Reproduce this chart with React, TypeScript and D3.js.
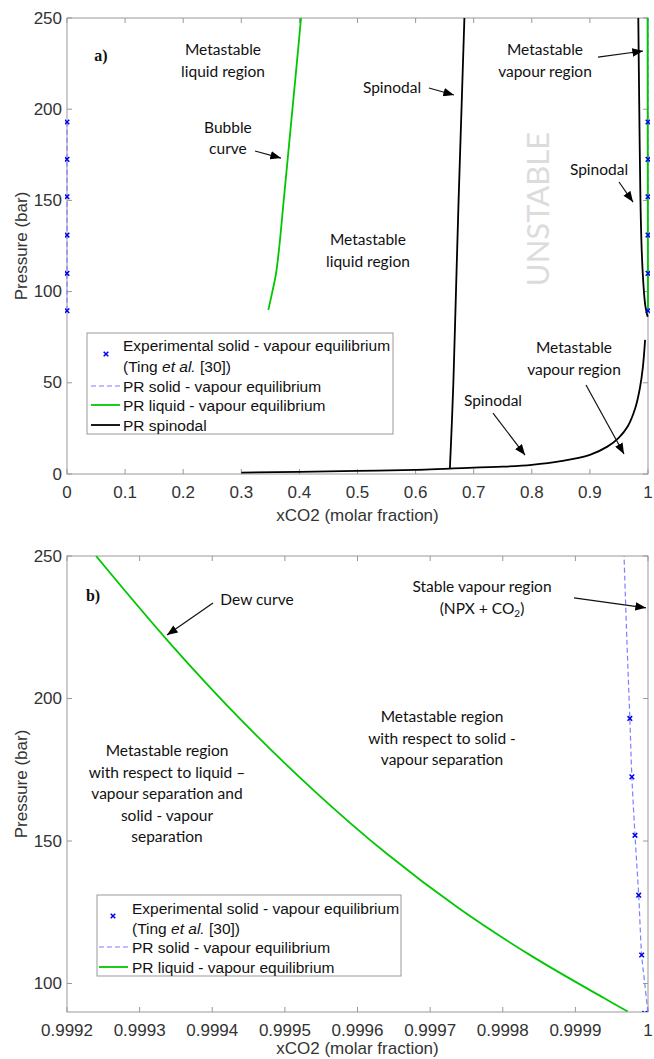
import React from 'react';
import * as d3 from 'd3';

// ---------------- data ----------------
const topXTicks = [0, 0.1, 0.2, 0.3, 0.4, 0.5, 0.6, 0.7, 0.8, 0.9, 1];
const topXTickLabels = ['0', '0.1', '0.2', '0.3', '0.4', '0.5', '0.6', '0.7', '0.8', '0.9', '1'];
const topYTicks = [0, 50, 100, 150, 200, 250];
const bottomXTicks = [0.9992, 0.9993, 0.9994, 0.9995, 0.9996, 0.9997, 0.9998, 0.9999, 1];
const bottomXTickLabels = ['0.9992', '0.9993', '0.9994', '0.9995', '0.9996', '0.9997', '0.9998', '0.9999', '1'];
const bottomYTicks = [100, 150, 200, 250];

// Experimental solid - vapour equilibrium (Ting et al.)
const expPressure = [193, 172.5, 152, 131, 110, 89.5];
const expXCO2 = [0.999975, 0.9999778, 0.9999821, 0.9999872, 0.9999913, 0.9999955];
const expXCO2Left = [0, 0, 0, 0, 0, 0];

// PR solid - vapour equilibrium
const svPressure = [90, 100, 110, 131, 152, 172.5, 193, 220, 250];
const svXCO2 = [0.9999998, 0.9999955, 0.9999913, 0.9999872, 0.9999821, 0.9999778, 0.999975, 0.999971, 0.999967];
const svLeftPressure = [89.5, 193];
const svLeftXCO2 = [0, 0];

// PR liquid - vapour equilibrium: dew curve (CO2-rich) and bubble curve
const dewPressure = [250, 219.9, 192.4, 167.7, 145.6, 126.3, 109.6, 94.8, 90.2];
const dewXCO2 = [0.99924, 0.99934, 0.99944, 0.99954, 0.99964, 0.99974, 0.99984, 0.99994, 0.999972];
const bubblePressure = [90, 100, 110, 125, 150, 175, 200, 225, 250];
const bubbleXCO2 = [0.3465, 0.3535, 0.3598, 0.3655, 0.373, 0.3805, 0.388, 0.3955, 0.4028];

// PR spinodal branches
const liqSpinPressure = [3.0, 25, 50, 100, 150, 200, 250];
const liqSpinXCO2 = [0.659, 0.662, 0.665, 0.6695, 0.674, 0.679, 0.684];
const vapSpinPressure = [86.2, 88, 92, 100, 120, 150, 200, 250];
const vapSpinXCO2 = [0.9995, 0.998, 0.9955, 0.993, 0.9895, 0.987, 0.985, 0.9833];
const lowSpinXCO2 = [0.3, 0.4, 0.5, 0.6, 0.659, 0.75, 0.8, 0.85, 0.9, 0.93, 0.95, 0.965, 0.978, 0.986, 0.991, 0.995];
const lowSpinPressure = [0.8, 1.2, 1.7, 2.3, 3.0, 4.0, 5.0, 7.0, 10.5, 15, 20, 26, 36, 47, 58, 73.5];

// annotations (data coordinates)
const topNotes = [
  { lines: ['Metastable', 'liquid region'], x: 0.2685, y: 232.5 },
  { lines: ['Bubble', 'curve'], x: 0.277, y: 190.2 },
  { lines: ['Spinodal'], x: 0.5594, y: 211.6 },
  { lines: ['Metastable', 'vapour region'], x: 0.8227, y: 232.5 },
  { lines: ['Spinodal'], x: 0.9157, y: 166.7 },
  { lines: ['Metastable', 'liquid region'], x: 0.518, y: 128.3 },
  { lines: ['Metastable', 'vapour region'], x: 0.8726, y: 69.1 },
  { lines: ['Spinodal'], x: 0.7332, y: 40.0 },
];
const topArrows = [
  { x1: 0.3236, y1: 177.1, x2: 0.3683, y2: 173.2 },
  { x1: 0.623, y1: 211.6, x2: 0.6661, y2: 207.8 },
  { x1: 0.914, y1: 228.6, x2: 0.9914, y2: 231.9 },
  { x1: 0.9501, y1: 160.1, x2: 0.9742, y2: 149.1 },
  { x1: 0.8933, y1: 48.8, x2: 0.9587, y2: 11.0 },
  { x1: 0.7332, y1: 33.4, x2: 0.7883, y2: 10.4 },
];
const bottomNotes = [
  { lines: ['Dew curve'], x: 0.99946162, y: 234.6 },
  { lines: ['Metastable region', 'with respect to solid -', 'vapour separation'], x: 0.99971635, y: 193.6 },
  { lines: ['Metastable region', 'with respect to liquid –', 'vapour separation and', 'solid  -  vapour', 'separation'], x: 0.99933769, y: 181.7 },
];
const bottomArrows = [
  { x1: 0.99940103, y1: 233.5, x2: 0.99933769, y2: 222.3 },
  { x1: 0.99989811, y1: 235.3, x2: 0.99999725, y2: 231.8 },
];

// ---------------- styles ----------------
const W = 654;
const H = 1059;
const GREEN = '#00c800';
const BLUE = '#0000ee';
const LIGHTBLUE = '#7f7fff';
const AXIS = '#999999';
const TICKTXT = '#333333';
const SANS = '"Liberation Sans", Arial, sans-serif';
const NOTE = 'Lato, "Open Sans", sans-serif';
const NOTE_FS = 15.5;

const topBox = { left: 67, right: 648, top: 18, bottom: 474 };
const botBox = { left: 67, right: 648, top: 556, bottom: 1012 };

const xTop = d3.scaleLinear().domain([0, 1]).range([topBox.left, topBox.right]);
const yTop = d3.scaleLinear().domain([0, 250]).range([topBox.bottom, topBox.top]);
const xBot = d3.scaleLinear().domain([0.9992, 1]).range([botBox.left, botBox.right]);
const yBot = d3.scaleLinear().domain([90, 250]).range([botBox.bottom, botBox.top]);

type Sc = d3.ScaleLinear<number, number>;

function pathXY(xs: number[], ys: number[], xs_: Sc, ys_: Sc) {
  const pts = xs.map((x, i) => [x, ys[i]] as [number, number]);
  return d3
    .line<[number, number]>()
    .x((d) => xs_(d[0]))
    .y((d) => ys_(d[1]))
    .curve(d3.curveCatmullRom.alpha(0.5))(pts) as string;
}

function Cross({ cx, cy }: { cx: number; cy: number }) {
  const s = 2.3;
  return (
    <path
      d={`M${cx - s},${cy - s}L${cx + s},${cy + s}M${cx - s},${cy + s}L${cx + s},${cy - s}`}
      stroke={BLUE}
      strokeWidth={1.5}
      fill="none"
    />
  );
}

function Axes({ box, xs, ys, xt, xl, yt, xLabelY }: any) {
  const tl = 5;
  return (
    <g>
      <rect x={box.left} y={box.top} width={box.right - box.left} height={box.bottom - box.top} fill="none" stroke={AXIS} strokeWidth={1} />
      {xt.map((t: number, i: number) => (
        <g key={'x' + i}>
          <line x1={xs(t)} x2={xs(t)} y1={box.bottom} y2={box.bottom - tl} stroke={AXIS} />
          <line x1={xs(t)} x2={xs(t)} y1={box.top} y2={box.top + tl} stroke={AXIS} />
          <text x={xs(t)} y={xLabelY} textAnchor="middle" dominantBaseline="central" fontFamily={SANS} fontSize={17} fill={TICKTXT}>
            {xl[i]}
          </text>
        </g>
      ))}
      {yt.map((t: number, i: number) => (
        <g key={'y' + i}>
          <line x1={box.left} x2={box.left + tl} y1={ys(t)} y2={ys(t)} stroke={AXIS} />
          <line x1={box.right} x2={box.right - tl} y1={ys(t)} y2={ys(t)} stroke={AXIS} />
          <text x={box.left - 5} y={ys(t)} textAnchor="end" dominantBaseline="central" fontFamily={SANS} fontSize={17} fill={TICKTXT}>
            {String(t)}
          </text>
        </g>
      ))}
    </g>
  );
}

function Notes({ notes, xs, ys }: any) {
  return (
    <g>
      {notes.map((n: any, i: number) => (
        <text key={i} x={xs(n.x)} y={ys(n.y)} textAnchor="middle" fontFamily={NOTE} fontSize={NOTE_FS} fill="#111">
          {n.lines.map((l: string, j: number) => (
            <tspan key={j} x={xs(n.x)} dy={j === 0 ? '0.35em' : '1.39em'}>
              {l}
            </tspan>
          ))}
        </text>
      ))}
    </g>
  );
}

function Arrows({ arrows, xs, ys }: any) {
  return (
    <g>
      {arrows.map((a: any, i: number) => (
        <line key={i} x1={xs(a.x1)} y1={ys(a.y1)} x2={xs(a.x2)} y2={ys(a.y2)} stroke="#111" strokeWidth={1.2} markerEnd="url(#ah)" />
      ))}
    </g>
  );
}

function LegendEntry({ kind, x, y }: { kind: string; x: number; y: number }) {
  if (kind === 'dash') return <line x1={x} x2={x + 29} y1={y} y2={y} stroke={LIGHTBLUE} strokeWidth={1.2} strokeDasharray="5,3" />;
  if (kind === 'green') return <line x1={x} x2={x + 29} y1={y} y2={y} stroke={GREEN} strokeWidth={1.8} />;
  return <line x1={x} x2={x + 29} y1={y} y2={y} stroke="#000" strokeWidth={1.8} />;
}

function Legend({ x0, y0, w, h, markerX, markerY, textX, rows, lineX, withSpinodal }: any) {
  const fs = 15.5;
  return (
    <g fontFamily={SANS} fontSize={fs} fill="#111">
      <rect x={x0} y={y0} width={w} height={h} fill="#fff" stroke={AXIS} strokeWidth={1} />
      <Cross cx={markerX} cy={markerY} />
      <text x={textX} y={rows[0]} dominantBaseline="central">Experimental solid - vapour equilibrium</text>
      <text x={textX} y={rows[1]} dominantBaseline="central">
        (Ting <tspan fontStyle="italic">et al.</tspan> [30])
      </text>
      <LegendEntry kind="dash" x={lineX} y={rows[2]} />
      <text x={textX} y={rows[2]} dominantBaseline="central">PR solid - vapour equilibrium</text>
      <LegendEntry kind="green" x={lineX} y={rows[3]} />
      <text x={textX} y={rows[3]} dominantBaseline="central">PR liquid - vapour equilibrium</text>
      {withSpinodal && (
        <>
          <LegendEntry kind="black" x={lineX} y={rows[4]} />
          <text x={textX} y={rows[4]} dominantBaseline="central">PR spinodal</text>
        </>
      )}
    </g>
  );
}

export default function App() {
  const topMidY = (topBox.top + topBox.bottom) / 2;
  const botMidY = (botBox.top + botBox.bottom) / 2;
  return (
    <svg width={W} height={H} style={{ position: 'absolute', left: 0, top: 0, background: '#fff' }}>
      <defs>
        <marker id="ah" viewBox="0 0 10 8" refX={10} refY={4} markerWidth={11} markerHeight={8.5} markerUnits="userSpaceOnUse" orient="auto">
          <path d="M0,0L10,4L0,8Z" fill="#000" />
        </marker>
        <clipPath id="clipTop">
          <rect x={topBox.left - 2} y={topBox.top} width={topBox.right - topBox.left + 4} height={topBox.bottom - topBox.top} />
        </clipPath>
        <clipPath id="clipBot">
          <rect x={botBox.left - 2} y={botBox.top} width={botBox.right - botBox.left + 4} height={botBox.bottom - botBox.top} />
        </clipPath>
      </defs>
      <rect x={0} y={0} width={W} height={H} fill="#fff" />

      {/* ---------- panel a ---------- */}
      <Axes box={topBox} xs={xTop} ys={yTop} xt={topXTicks} xl={topXTickLabels} yt={topYTicks} xLabelY={492} />
      <text
        x={21}
        y={topMidY}
        transform={`rotate(-90 21 ${topMidY})`}
        textAnchor="middle"
        dominantBaseline="central"
        fontFamily={SANS}
        fontSize={17}
        fill={TICKTXT}
      >
        Pressure (bar)
      </text>
      <text x={(topBox.left + topBox.right) / 2} y={515} textAnchor="middle" dominantBaseline="central" fontFamily={SANS} fontSize={17} fill={TICKTXT}>
        xCO2 (molar fraction)
      </text>
      <text
        x={xTop(0.809)}
        y={yTop(145.3)}
        transform={`rotate(-90 ${xTop(0.809)} ${yTop(145.3)})`}
        textAnchor="middle"
        dominantBaseline="central"
        fontFamily={NOTE}
        fontSize={31}
        fill="#dcdcdc"
      >
        UNSTABLE
      </text>
      <g clipPath="url(#clipTop)">
        <path d={pathXY(bubbleXCO2, bubblePressure, xTop, yTop)} stroke={GREEN} strokeWidth={1.8} fill="none" />
        <path d={pathXY(svXCO2, svPressure, xTop, yTop)} stroke={LIGHTBLUE} strokeWidth={1.2} strokeDasharray="5,3" fill="none" />
        <path d={pathXY(svLeftXCO2, svLeftPressure, xTop, yTop)} stroke={LIGHTBLUE} strokeWidth={1.2} strokeDasharray="5,3" fill="none" />
        <path d={pathXY(dewXCO2, dewPressure, xTop, yTop)} stroke={GREEN} strokeWidth={1.8} fill="none" />
        <path d={pathXY(liqSpinXCO2, liqSpinPressure, xTop, yTop)} stroke="#000" strokeWidth={1.8} fill="none" />
        <path d={pathXY(vapSpinXCO2, vapSpinPressure, xTop, yTop)} stroke="#000" strokeWidth={1.8} fill="none" />
        <path d={pathXY(lowSpinXCO2, lowSpinPressure, xTop, yTop)} stroke="#000" strokeWidth={1.8} fill="none" />
        {expPressure.map((p, i) => (
          <Cross key={'l' + i} cx={xTop(expXCO2Left[i])} cy={yTop(p)} />
        ))}
        {expPressure.map((p, i) => (
          <Cross key={'r' + i} cx={xTop(expXCO2[i])} cy={yTop(p)} />
        ))}
      </g>
      <text x={xTop(0.0585)} y={yTop(229.7)} textAnchor="middle" dominantBaseline="central" fontFamily='"Liberation Serif", "Times New Roman", serif' fontWeight="bold" fontSize={16} fill="#111">
        a)
      </text>
      <Notes notes={topNotes} xs={xTop} ys={yTop} />
      <Arrows arrows={topArrows} xs={xTop} ys={yTop} />
      <Legend x0={87} y0={333} w={306} h={101} markerX={106} markerY={354} textX={123} lineX={91} rows={[345, 366, 386, 405, 425]} withSpinodal={true} />

      {/* ---------- panel b ---------- */}
      <Axes box={botBox} xs={xBot} ys={yBot} xt={bottomXTicks} xl={bottomXTickLabels} yt={bottomYTicks} xLabelY={1030} />
      <text
        x={21}
        y={botMidY}
        transform={`rotate(-90 21 ${botMidY})`}
        textAnchor="middle"
        dominantBaseline="central"
        fontFamily={SANS}
        fontSize={17}
        fill={TICKTXT}
      >
        Pressure (bar)
      </text>
      <text x={(botBox.left + botBox.right) / 2} y={1048} textAnchor="middle" dominantBaseline="central" fontFamily={SANS} fontSize={17} fill={TICKTXT}>
        xCO2 (molar fraction)
      </text>
      <g clipPath="url(#clipBot)">
        <path d={pathXY(dewXCO2, dewPressure, xBot, yBot)} stroke={GREEN} strokeWidth={1.8} fill="none" />
        <path d={pathXY(svXCO2, svPressure, xBot, yBot)} stroke={LIGHTBLUE} strokeWidth={1.2} strokeDasharray="5,3" fill="none" />
        {expPressure.map((p, i) => (
          <Cross key={'b' + i} cx={xBot(expXCO2[i])} cy={yBot(p)} />
        ))}
      </g>
      <text x={xBot(0.9992358)} y={yBot(236)} textAnchor="middle" dominantBaseline="central" fontFamily='"Liberation Serif", "Times New Roman", serif' fontWeight="bold" fontSize={16} fill="#111">
        b)
      </text>
      <Notes notes={bottomNotes} xs={xBot} ys={yBot} />
      <text x={xBot(0.99977143)} y={yBot(239.1)} textAnchor="middle" fontFamily={NOTE} fontSize={NOTE_FS} fill="#111">
        <tspan x={xBot(0.99977143)} dy="0.35em">Stable vapour region</tspan>
        <tspan x={xBot(0.99977143)} dy="1.39em">(NPX + CO</tspan>
        <tspan fontSize={10} dy="3">2</tspan>
        <tspan dy="-3">)</tspan>
      </text>
      <Arrows arrows={bottomArrows} xs={xBot} ys={yBot} />
      <Legend x0={97} y0={895} w={304} h={81} markerX={113} markerY={916} textX={132} lineX={99} rows={[908, 928, 947, 967]} withSpinodal={false} />
    </svg>
  );
}
